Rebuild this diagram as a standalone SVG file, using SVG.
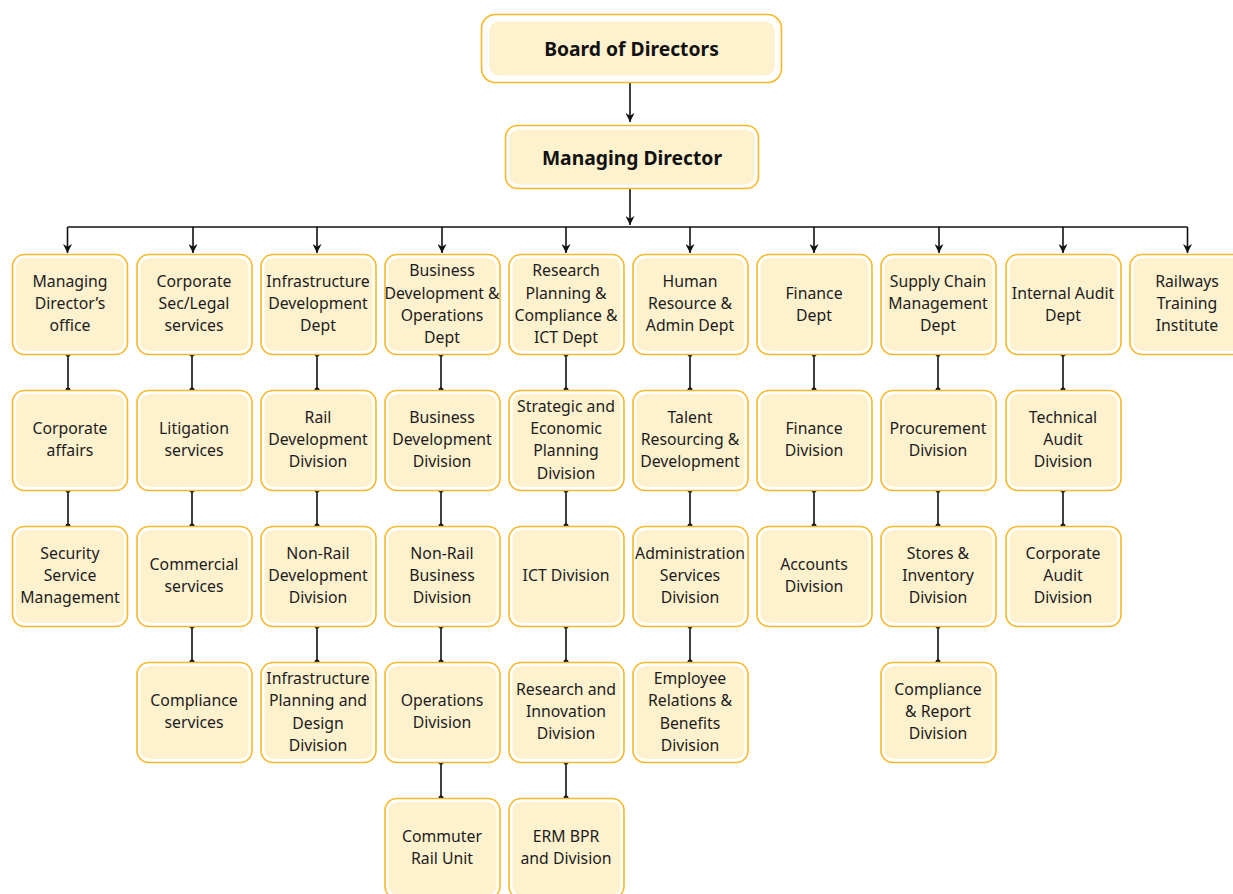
<svg xmlns="http://www.w3.org/2000/svg" width="1233" height="894" viewBox="0 0 1233 894">
<style>
.o{fill:#ffffff;stroke:#F8B826;stroke-width:1.6}
.i{fill:#FEF1CE;stroke:none}
.t{font-family:"Noto Sans","Open Sans",sans-serif;font-size:15.8px;fill:#1c1c1c;text-anchor:middle;dominant-baseline:central}
.b{font-family:"Noto Sans","Open Sans",sans-serif;font-size:19.3px;font-weight:bold;fill:#111;text-anchor:middle;dominant-baseline:central}
.c{fill:none;stroke:#111;stroke-width:1.6}
.d{fill:#111}
</style>
<defs>
<marker id="ah" viewBox="0 0 10 10" refX="10" refY="5" markerWidth="9" markerHeight="9" markerUnits="userSpaceOnUse" orient="auto">
<path d="M0,0 L10,5 L0,10 L3,5 Z" fill="#111"/>
</marker>
</defs>
<g id="connectors">
<path class="c" d="M630,83 V122" marker-end="url(#ah)"/>
<path class="c" d="M630,189 V225" marker-end="url(#ah)"/>
<path class="c" d="M67.5,227 H1187.5"/>
<path class="c" d="M67.5,227 V253" marker-end="url(#ah)"/>
<path class="c" d="M193,227 V253" marker-end="url(#ah)"/>
<path class="c" d="M317,227 V253" marker-end="url(#ah)"/>
<path class="c" d="M442,227 V253" marker-end="url(#ah)"/>
<path class="c" d="M566,227 V253" marker-end="url(#ah)"/>
<path class="c" d="M690,227 V253" marker-end="url(#ah)"/>
<path class="c" d="M814,227 V253" marker-end="url(#ah)"/>
<path class="c" d="M939,227 V253" marker-end="url(#ah)"/>
<path class="c" d="M1063,227 V253" marker-end="url(#ah)"/>
<path class="c" d="M1187.5,227 V253" marker-end="url(#ah)"/>
<g id="links">
<path class="c" d="M68,354 V390 M68,490 V526"/>
<circle class="d" cx="68" cy="354" r="2.6"/><circle class="d" cx="68" cy="390" r="2.6"/>
<circle class="d" cx="68" cy="490" r="2.6"/><circle class="d" cx="68" cy="526" r="2.6"/>
<path class="c" d="M192,354 V390 M192,490 V526 M192,626 V662"/>
<circle class="d" cx="192" cy="354" r="2.6"/><circle class="d" cx="192" cy="390" r="2.6"/>
<circle class="d" cx="192" cy="490" r="2.6"/><circle class="d" cx="192" cy="526" r="2.6"/>
<circle class="d" cx="192" cy="626" r="2.6"/><circle class="d" cx="192" cy="662" r="2.6"/>
<path class="c" d="M317,354 V390 M317,490 V526 M317,626 V662"/>
<circle class="d" cx="317" cy="354" r="2.6"/><circle class="d" cx="317" cy="390" r="2.6"/>
<circle class="d" cx="317" cy="490" r="2.6"/><circle class="d" cx="317" cy="526" r="2.6"/>
<circle class="d" cx="317" cy="626" r="2.6"/><circle class="d" cx="317" cy="662" r="2.6"/>
<path class="c" d="M441,354 V390 M441,490 V526 M441,626 V662 M441,762 V798"/>
<circle class="d" cx="441" cy="354" r="2.6"/><circle class="d" cx="441" cy="390" r="2.6"/>
<circle class="d" cx="441" cy="490" r="2.6"/><circle class="d" cx="441" cy="526" r="2.6"/>
<circle class="d" cx="441" cy="626" r="2.6"/><circle class="d" cx="441" cy="662" r="2.6"/>
<circle class="d" cx="441" cy="762" r="2.6"/><circle class="d" cx="441" cy="798" r="2.6"/>
<path class="c" d="M566,354 V390 M566,490 V526 M566,626 V662 M566,762 V798"/>
<circle class="d" cx="566" cy="354" r="2.6"/><circle class="d" cx="566" cy="390" r="2.6"/>
<circle class="d" cx="566" cy="490" r="2.6"/><circle class="d" cx="566" cy="526" r="2.6"/>
<circle class="d" cx="566" cy="626" r="2.6"/><circle class="d" cx="566" cy="662" r="2.6"/>
<circle class="d" cx="566" cy="762" r="2.6"/><circle class="d" cx="566" cy="798" r="2.6"/>
<path class="c" d="M690,354 V390 M690,490 V526 M690,626 V662"/>
<circle class="d" cx="690" cy="354" r="2.6"/><circle class="d" cx="690" cy="390" r="2.6"/>
<circle class="d" cx="690" cy="490" r="2.6"/><circle class="d" cx="690" cy="526" r="2.6"/>
<circle class="d" cx="690" cy="626" r="2.6"/><circle class="d" cx="690" cy="662" r="2.6"/>
<path class="c" d="M814,354 V390 M814,490 V526"/>
<circle class="d" cx="814" cy="354" r="2.6"/><circle class="d" cx="814" cy="390" r="2.6"/>
<circle class="d" cx="814" cy="490" r="2.6"/><circle class="d" cx="814" cy="526" r="2.6"/>
<path class="c" d="M938,354 V390 M938,490 V526 M938,626 V662"/>
<circle class="d" cx="938" cy="354" r="2.6"/><circle class="d" cx="938" cy="390" r="2.6"/>
<circle class="d" cx="938" cy="490" r="2.6"/><circle class="d" cx="938" cy="526" r="2.6"/>
<circle class="d" cx="938" cy="626" r="2.6"/><circle class="d" cx="938" cy="662" r="2.6"/>
<path class="c" d="M1063,354 V390 M1063,490 V526"/>
<circle class="d" cx="1063" cy="354" r="2.6"/><circle class="d" cx="1063" cy="390" r="2.6"/>
<circle class="d" cx="1063" cy="490" r="2.6"/><circle class="d" cx="1063" cy="526" r="2.6"/>
</g>
</g>

<g id="board">
<rect class="o" x="481.5" y="14.5" width="300" height="68" rx="14"/>
<rect class="i" x="489" y="21.5" width="286" height="54" rx="10"/>
<text class="b" x="631.5" y="48">Board of Directors</text>
</g>
<g id="md">
<rect class="o" x="505.5" y="125.5" width="253" height="63" rx="12"/>
<rect class="i" x="509.5" y="129.5" width="245" height="55" rx="9"/>
<text class="b" x="632" y="157">Managing Director</text>
</g>

<g id="n0_0"><rect class="o" x="12.5" y="254.5" width="115" height="100" rx="12"/><rect class="i" x="16" y="258" width="108" height="93" rx="9"/>
<text class="t" x="70" y="281">Managing</text><text class="t" x="70" y="303">Director’s</text><text class="t" x="70" y="325">office</text></g>
<g id="n0_1"><rect class="o" x="12.5" y="390.5" width="115" height="100" rx="12"/><rect class="i" x="16" y="394" width="108" height="93" rx="9"/>
<text class="t" x="70" y="428">Corporate</text><text class="t" x="70" y="450">affairs</text></g>
<g id="n0_2"><rect class="o" x="12.5" y="526.5" width="115" height="100" rx="12"/><rect class="i" x="16" y="530" width="108" height="93" rx="9"/>
<text class="t" x="70" y="553">Security</text><text class="t" x="70" y="575">Service</text><text class="t" x="70" y="597">Management</text></g>

<g id="n1_0"><rect class="o" x="137" y="254.5" width="115" height="100" rx="12"/><rect class="i" x="140.5" y="258" width="108" height="93" rx="9"/>
<text class="t" x="194" y="281">Corporate</text><text class="t" x="194" y="303">Sec/Legal</text><text class="t" x="194" y="325">services</text></g>
<g id="n1_1"><rect class="o" x="137" y="390.5" width="115" height="100" rx="12"/><rect class="i" x="140.5" y="394" width="108" height="93" rx="9"/>
<text class="t" x="194" y="428">Litigation</text><text class="t" x="194" y="450">services</text></g>
<g id="n1_2"><rect class="o" x="137" y="526.5" width="115" height="100" rx="12"/><rect class="i" x="140.5" y="530" width="108" height="93" rx="9"/>
<text class="t" x="194" y="564">Commercial</text><text class="t" x="194" y="586">services</text></g>
<g id="n1_3"><rect class="o" x="137" y="662.5" width="115" height="100" rx="12"/><rect class="i" x="140.5" y="666" width="108" height="93" rx="9"/>
<text class="t" x="194" y="700">Compliance</text><text class="t" x="194" y="722">services</text></g>

<g id="n2_0"><rect class="o" x="261" y="254.5" width="115" height="100" rx="12"/><rect class="i" x="264.5" y="258" width="108" height="93" rx="9"/>
<text class="t" x="318" y="281">Infrastructure</text><text class="t" x="318" y="303">Development</text><text class="t" x="318" y="325">Dept</text></g>
<g id="n2_1"><rect class="o" x="261" y="390.5" width="115" height="100" rx="12"/><rect class="i" x="264.5" y="394" width="108" height="93" rx="9"/>
<text class="t" x="318" y="417">Rail</text><text class="t" x="318" y="439">Development</text><text class="t" x="318" y="461">Division</text></g>
<g id="n2_2"><rect class="o" x="261" y="526.5" width="115" height="100" rx="12"/><rect class="i" x="264.5" y="530" width="108" height="93" rx="9"/>
<text class="t" x="318" y="553">Non-Rail</text><text class="t" x="318" y="575">Development</text><text class="t" x="318" y="597">Division</text></g>
<g id="n2_3"><rect class="o" x="261" y="662.5" width="115" height="100" rx="12"/><rect class="i" x="264.5" y="666" width="108" height="93" rx="9"/>
<text class="t" x="318" y="678">Infrastructure</text><text class="t" x="318" y="700">Planning and</text><text class="t" x="318" y="723">Design</text><text class="t" x="318" y="745">Division</text></g>

<g id="n3_0"><rect class="o" x="385" y="254.5" width="115" height="100" rx="12"/><rect class="i" x="388.5" y="258" width="108" height="93" rx="9"/>
<text class="t" x="442" y="270">Business</text><text class="t" x="442" y="293">Development &amp;</text><text class="t" x="442" y="315">Operations</text><text class="t" x="442" y="337">Dept</text></g>
<g id="n3_1"><rect class="o" x="385" y="390.5" width="115" height="100" rx="12"/><rect class="i" x="388.5" y="394" width="108" height="93" rx="9"/>
<text class="t" x="442" y="417">Business</text><text class="t" x="442" y="439">Development</text><text class="t" x="442" y="461">Division</text></g>
<g id="n3_2"><rect class="o" x="385" y="526.5" width="115" height="100" rx="12"/><rect class="i" x="388.5" y="530" width="108" height="93" rx="9"/>
<text class="t" x="442" y="553">Non-Rail</text><text class="t" x="442" y="575">Business</text><text class="t" x="442" y="597">Division</text></g>
<g id="n3_3"><rect class="o" x="385" y="662.5" width="115" height="100" rx="12"/><rect class="i" x="388.5" y="666" width="108" height="93" rx="9"/>
<text class="t" x="442" y="700">Operations</text><text class="t" x="442" y="722">Division</text></g>
<g id="n3_4"><rect class="o" x="385" y="798.5" width="115" height="100" rx="12"/><rect class="i" x="388.5" y="802" width="108" height="93" rx="9"/>
<text class="t" x="442" y="836">Commuter</text><text class="t" x="442" y="858">Rail Unit</text></g>

<g id="n4_0"><rect class="o" x="509" y="254.5" width="115" height="100" rx="12"/><rect class="i" x="512.5" y="258" width="108" height="93" rx="9"/>
<text class="t" x="566" y="270">Research</text><text class="t" x="566" y="293">Planning &amp;</text><text class="t" x="566" y="315">Compliance &amp;</text><text class="t" x="566" y="337">ICT Dept</text></g>
<g id="n4_1"><rect class="o" x="509" y="390.5" width="115" height="100" rx="12"/><rect class="i" x="512.5" y="394" width="108" height="93" rx="9"/>
<text class="t" x="566" y="406">Strategic and</text><text class="t" x="566" y="428">Economic</text><text class="t" x="566" y="450">Planning</text><text class="t" x="566" y="473">Division</text></g>
<g id="n4_2"><rect class="o" x="509" y="526.5" width="115" height="100" rx="12"/><rect class="i" x="512.5" y="530" width="108" height="93" rx="9"/>
<text class="t" x="566" y="575">ICT Division</text></g>
<g id="n4_3"><rect class="o" x="509" y="662.5" width="115" height="100" rx="12"/><rect class="i" x="512.5" y="666" width="108" height="93" rx="9"/>
<text class="t" x="566" y="689">Research and</text><text class="t" x="566" y="711">Innovation</text><text class="t" x="566" y="733">Division</text></g>
<g id="n4_4"><rect class="o" x="509" y="798.5" width="115" height="100" rx="12"/><rect class="i" x="512.5" y="802" width="108" height="93" rx="9"/>
<text class="t" x="566" y="836">ERM BPR</text><text class="t" x="566" y="858">and Division</text></g>

<g id="n5_0"><rect class="o" x="633" y="254.5" width="115" height="100" rx="12"/><rect class="i" x="636.5" y="258" width="108" height="93" rx="9"/>
<text class="t" x="690" y="281">Human</text><text class="t" x="690" y="303">Resource &amp;</text><text class="t" x="690" y="325">Admin Dept</text></g>
<g id="n5_1"><rect class="o" x="633" y="390.5" width="115" height="100" rx="12"/><rect class="i" x="636.5" y="394" width="108" height="93" rx="9"/>
<text class="t" x="690" y="417">Talent</text><text class="t" x="690" y="439">Resourcing &amp;</text><text class="t" x="690" y="461">Development</text></g>
<g id="n5_2"><rect class="o" x="633" y="526.5" width="115" height="100" rx="12"/><rect class="i" x="636.5" y="530" width="108" height="93" rx="9"/>
<text class="t" x="690" y="553">Administration</text><text class="t" x="690" y="575">Services</text><text class="t" x="690" y="597">Division</text></g>
<g id="n5_3"><rect class="o" x="633" y="662.5" width="115" height="100" rx="12"/><rect class="i" x="636.5" y="666" width="108" height="93" rx="9"/>
<text class="t" x="690" y="678">Employee</text><text class="t" x="690" y="700">Relations &amp;</text><text class="t" x="690" y="723">Benefits</text><text class="t" x="690" y="745">Division</text></g>

<g id="n6_0"><rect class="o" x="757" y="254.5" width="115" height="100" rx="12"/><rect class="i" x="760.5" y="258" width="108" height="93" rx="9"/>
<text class="t" x="814" y="293">Finance</text><text class="t" x="814" y="315">Dept</text></g>
<g id="n6_1"><rect class="o" x="757" y="390.5" width="115" height="100" rx="12"/><rect class="i" x="760.5" y="394" width="108" height="93" rx="9"/>
<text class="t" x="814" y="428">Finance</text><text class="t" x="814" y="450">Division</text></g>
<g id="n6_2"><rect class="o" x="757" y="526.5" width="115" height="100" rx="12"/><rect class="i" x="760.5" y="530" width="108" height="93" rx="9"/>
<text class="t" x="814" y="564">Accounts</text><text class="t" x="814" y="586">Division</text></g>

<g id="n7_0"><rect class="o" x="881" y="254.5" width="115" height="100" rx="12"/><rect class="i" x="884.5" y="258" width="108" height="93" rx="9"/>
<text class="t" x="938" y="281">Supply Chain</text><text class="t" x="938" y="303">Management</text><text class="t" x="938" y="325">Dept</text></g>
<g id="n7_1"><rect class="o" x="881" y="390.5" width="115" height="100" rx="12"/><rect class="i" x="884.5" y="394" width="108" height="93" rx="9"/>
<text class="t" x="938" y="428">Procurement</text><text class="t" x="938" y="450">Division</text></g>
<g id="n7_2"><rect class="o" x="881" y="526.5" width="115" height="100" rx="12"/><rect class="i" x="884.5" y="530" width="108" height="93" rx="9"/>
<text class="t" x="938" y="553">Stores &amp;</text><text class="t" x="938" y="575">Inventory</text><text class="t" x="938" y="597">Division</text></g>
<g id="n7_3"><rect class="o" x="881" y="662.5" width="115" height="100" rx="12"/><rect class="i" x="884.5" y="666" width="108" height="93" rx="9"/>
<text class="t" x="938" y="689">Compliance</text><text class="t" x="938" y="711">&amp; Report</text><text class="t" x="938" y="733">Division</text></g>

<g id="n8_0"><rect class="o" x="1006" y="254.5" width="115" height="100" rx="12"/><rect class="i" x="1009.5" y="258" width="108" height="93" rx="9"/>
<text class="t" x="1063" y="293">Internal Audit</text><text class="t" x="1063" y="315">Dept</text></g>
<g id="n8_1"><rect class="o" x="1006" y="390.5" width="115" height="100" rx="12"/><rect class="i" x="1009.5" y="394" width="108" height="93" rx="9"/>
<text class="t" x="1063" y="417">Technical</text><text class="t" x="1063" y="439">Audit</text><text class="t" x="1063" y="461">Division</text></g>
<g id="n8_2"><rect class="o" x="1006" y="526.5" width="115" height="100" rx="12"/><rect class="i" x="1009.5" y="530" width="108" height="93" rx="9"/>
<text class="t" x="1063" y="553">Corporate</text><text class="t" x="1063" y="575">Audit</text><text class="t" x="1063" y="597">Division</text></g>

<g id="n9_0"><rect class="o" x="1130" y="254.5" width="115" height="100" rx="12"/><rect class="i" x="1133.5" y="258" width="108" height="93" rx="9"/>
<text class="t" x="1187" y="281">Railways</text><text class="t" x="1187" y="303">Training</text><text class="t" x="1187" y="325">Institute</text></g>
</svg>
